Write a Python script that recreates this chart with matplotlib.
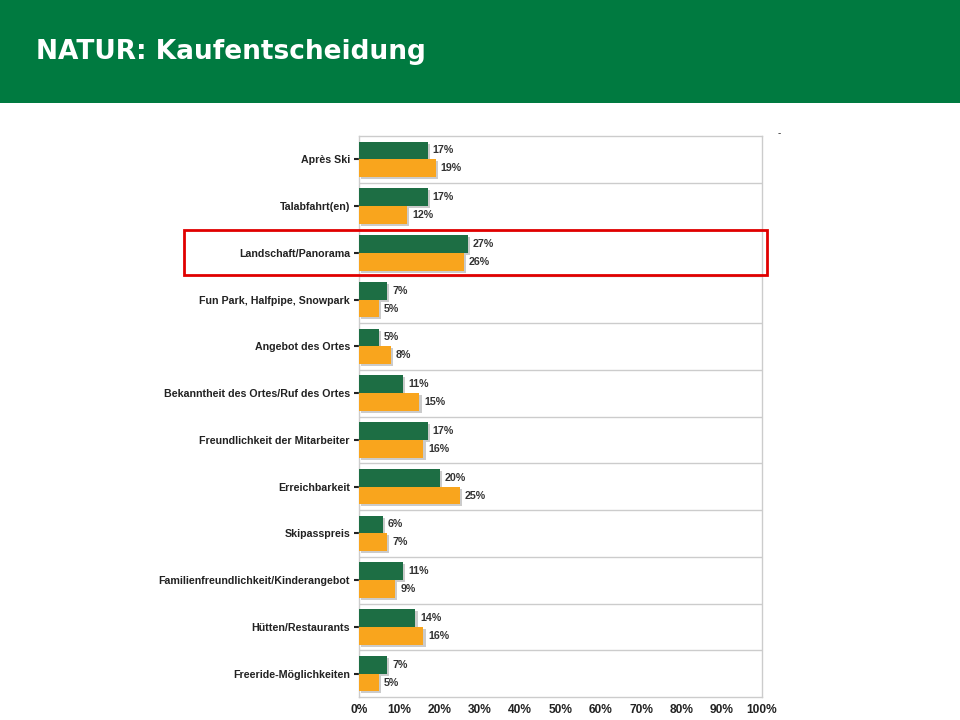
import matplotlib
matplotlib.use("Agg")
import matplotlib.pyplot as plt
import matplotlib.patheffects as pe
from matplotlib.patches import Rectangle
import matplotlib.transforms as mtransforms
import numpy as np

plt.rcParams['font.family'] = ['Liberation Sans', 'DejaVu Sans']

categories = ["Après Ski", "Talabfahrt(en)", "Landschaft/Panorama",
              "Fun Park, Halfpipe, Snowpark", "Angebot des Ortes",
              "Bekanntheit des Ortes/Ruf des Ortes", "Freundlichkeit der Mitarbeiter",
              "Erreichbarkeit", "Skipasspreis", "Familienfreundlichkeit/Kinderangebot",
              "Hütten/Restaurants", "Freeride-Möglichkeiten"]
series_green = [17, 17, 27, 7, 5, 11, 17, 20, 6, 11, 14, 7]
series_orange = [19, 12, 26, 5, 8, 15, 16, 25, 7, 9, 16, 5]
x_ticks = [0, 10, 20, 30, 40, 50, 60, 70, 80, 90, 100]
title = "NATUR: Kaufentscheidung"
highlight = "Landschaft/Panorama"

GREEN = "#1d6e44"
ORANGE = "#f9a51d"
HEADER = "#007a40"

fig = plt.figure(figsize=(9.6, 7.2), dpi=100)
fig.patch.set_facecolor("white")

# header band
fig.patches.append(Rectangle((0, 617/720), 1, 103/720, transform=fig.transFigure,
                             facecolor=HEADER, edgecolor="none", zorder=0))
fig.text(36/960, 1 - 52/720, title, color="white", fontsize=19, fontweight="bold",
         va="center", ha="left", family=["DejaVu Sans"])

ax = fig.add_axes([359/960, 23/720, 403/960, 561/720])
n = len(categories)
y = np.arange(n)
h = 0.38
shadow = [pe.SimplePatchShadow(offset=(1.5, -1.5), shadow_rgbFace="#999999", alpha=0.5), pe.Normal()]
ax.barh(y - 0.19, series_green, height=h, color=GREEN, zorder=3, path_effects=shadow)
ax.barh(y + 0.19, series_orange, height=h, color=ORANGE, zorder=3, path_effects=shadow)

for yy, v in zip(y - 0.19, series_green):
    ax.annotate(f"{v}%", (v, yy), xytext=(3.5, 0), textcoords="offset points",
                va="center", ha="left", fontsize=7.7, fontweight="bold", color="#333333")
for yy, v in zip(y + 0.19, series_orange):
    ax.annotate(f"{v}%", (v, yy), xytext=(3.5, 0), textcoords="offset points",
                va="center", ha="left", fontsize=7.7, fontweight="bold", color="#333333")

ax.set_xlim(0, 100)
ax.set_ylim(n - 0.5, -0.5)
ax.set_yticks(y)
ax.set_yticklabels(categories, fontsize=7.7, fontweight="bold", color="#222222")
ax.set_xticks(x_ticks)
ax.set_xticklabels([f"{t}%" for t in x_ticks], fontsize=8.6, fontweight="bold", color="#222222")
ax.tick_params(axis="y", length=3.5, width=1.5, color="#222222", pad=3)
ax.tick_params(axis="x", length=0, pad=5)
for b in np.arange(0.5, n - 0.5, 1):
    ax.axhline(b, color="#cccccc", lw=1, zorder=1)
for s in ax.spines.values():
    s.set_color("#cccccc")
    s.set_linewidth(1)

# highlight rectangle
idx = categories.index(highlight)
trans = mtransforms.blended_transform_factory(fig.transFigure, ax.transData)
ax.add_patch(Rectangle((184/960, idx + 0.48), (767 - 184)/960, -0.98, transform=trans,
                       fill=False, edgecolor="#e00000", lw=2, clip_on=False, zorder=5))

fig.text(779/960, 1 - 133/720, "-", fontsize=7, color="#222222", ha="center", va="center")

fig.savefig("out.png", dpi=100)
